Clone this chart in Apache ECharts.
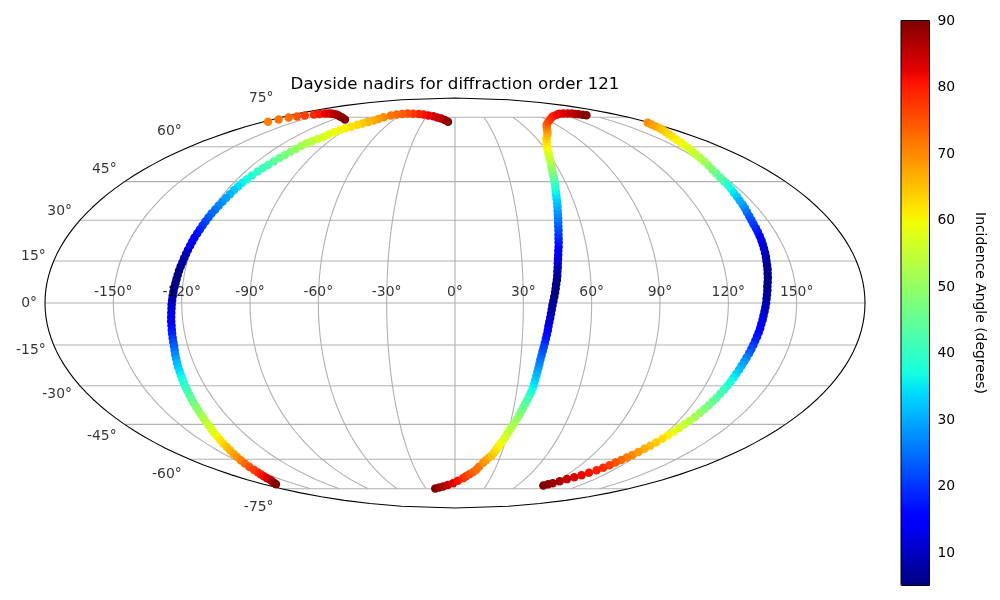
<!DOCTYPE html>
<html>
<head>
<meta charset="utf-8">
<title>Dayside nadirs</title>
<style>
    html, body { margin: 0; padding: 0; background: #fff; }
    #chart { width: 1000px; height: 600px; }
</style>
<script src="https://cdn.jsdelivr.net/npm/echarts@6/dist/echarts.min.js"></script>
</head>
<body>
<div id="chart"></div>
<script>
// [longitude, latitude, incidence angle] in degrees
var trackTopLeft = [
    [-176,72.5,71],[-173.6,73.7,72],[-171.1,74.8,73],[-166.8,75.4,75],[-162.8,76,77],[-157.3,76.6,79],
    [-154,77,80.5],[-150,77.3,82],[-146,77.3,83],[-142,77.2,84],[-138,77,85],[-133,76.7,86],
    [-128,76.2,87],[-122,75.5,88],[-116,74.8,89],[-108.3,73.7,90]
];
var trackWest = [
    [-6.6,72.5,90],[-10,73.4,88.5],[-14,74.3,87],[-18.3,74.9,85],[-23,75.6,84],[-29,76.1,82.5],
    [-35.2,76.6,81],[-41,76.9,79.5],[-48,77.1,78],[-54.4,77.2,76],[-60,77,74.5],[-65,76.6,73],
    [-69.6,76,72],[-74,75,70],[-76.3,74,68.5],[-78.2,73.1,67],[-81,72.3,66],[-84,71.5,64.5],
    [-86.7,70.8,63],[-89.5,69.8,62],[-92,69,61],[-94.2,68.2,60],[-96,67,59],[-97.5,65.8,58],
    [-98.7,64.6,57],[-100.5,63.6,55.7],[-102.3,62.6,54.4],[-104,61.6,53],[-105,60.3,51.7],[-106,59,50.4],
    [-107,57.7,49],[-108,56.3,47.5],[-109,54.9,46],[-110,53.4,44],[-111,52,42.7],[-112,50.6,41.4],
    [-113,49.2,40],[-113.9,47.5,38.5],[-114.6,46,37],[-115.2,44.5,36],[-115.7,43,34.3],[-116.2,41.5,32.7],
    [-116.6,40,31],[-117,38.5,29.5],[-117.4,37,28.2],[-117.9,35.5,26.9],[-118.3,34,25.6],[-118.8,32.5,24.2],
    [-119.1,31,23],[-119.4,29.5,21.6],[-119.7,28,20.2],[-120,26.5,18.8],[-120.3,25,17.3],[-120.7,23.5,15.8],
    [-120.9,22,14.3],[-121.1,20.5,12.9],[-121.4,19,11.5],[-121.6,17.5,10],[-121.9,16,8.6],[-122.1,14.5,7.6],
    [-122.4,13,6.8],[-122.7,11.5,6.1],[-122.9,10,5.6],[-123.1,8.5,5.4],[-123.3,7,5.5],[-123.6,5.5,6],
    [-123.8,4,7],[-124,2.5,8],[-124.2,1,9],[-124.4,-0.5,10],[-124.5,-2,11],[-124.7,-3.5,12.2],
    [-124.9,-5,13.3],[-125.1,-6.5,14.5],[-125.2,-8,15.8],[-125.4,-9.5,17],[-125.6,-11,18.4],[-125.8,-12.5,19.8],
    [-126,-14,21.5],[-126.2,-15.5,23.2],[-126.5,-17,25],[-126.9,-18.5,27],[-127.2,-20,29],[-127.6,-21.5,31],
    [-127.9,-23,32.4],[-128.2,-24.5,33.8],[-128.6,-26,35.3],[-128.9,-27.5,36.8],[-129.3,-29,38.3],[-129.7,-30.5,39.8],
    [-130.1,-32,41.4],[-130.5,-33.5,43],[-130.9,-35,44.6],[-131.3,-36.5,46.2],[-131.8,-38,47.8],[-132.3,-39.5,49.4],
    [-132.9,-41,51],[-133.4,-42.5,52.5],[-134.1,-44,54],[-134.9,-45.5,55.4],[-135.7,-47,56.8],[-136.6,-48.5,58.2],
    [-137.6,-50,59.8],[-138.6,-51.5,61.4],[-139.7,-53,63],[-140.7,-54.5,64.8],[-142,-56,66.2],[-143.5,-57.5,67.6],
    [-145.1,-59,69.2],[-146.7,-60.5,71],[-148.4,-62,73],[-150.2,-63.5,75],[-152,-65,76.8],[-153.6,-66.2,78],
    [-155.2,-67.2,79.8],[-157,-68.2,81.5],[-158.9,-69.2,83.3],[-160.8,-70.2,85],[-163.3,-71,86.7],[-165.9,-71.8,88.3],
    [-168.5,-72.5,90]
];
var trackCentre = [
    [-20.4,-74.9,90],[-16,-74.3,88.5],[-11.7,-73.7,87],[-7,-72.9,85.5],[-1.8,-71.9,83],[2.5,-70.6,81],
    [6.8,-69.2,79],[9,-68.2,77.5],[11.5,-67.2,76],[14,-66.2,74],[16,-64.9,73],[17.5,-63.5,72],
    [19.7,-61.6,70],[21.2,-60.4,68.5],[22.7,-59.2,66.8],[24.2,-58.1,65],[25.2,-56.8,63.8],[26,-55.5,62.5],
    [26.8,-54.2,61.2],[27.5,-53,60],[28.3,-51.8,58.8],[29.1,-50.3,57.4],[29.8,-48.8,55.8],[30.6,-47.3,54.5],
    [31.4,-45.8,53],[32.2,-44.3,51.8],[32.9,-42.8,50.4],[33.6,-41.3,49],[34.2,-39.8,47.5],[34.8,-38.3,46],
    [35.4,-36.8,44.5],[36,-35.3,42.8],[36.6,-33.8,41],[37.1,-32.3,39],[37.5,-30.8,37],[37.8,-29.3,35],
    [38,-27.8,33.5],[38.2,-26.3,32],[38.4,-24.8,30.5],[38.6,-23.3,29],[38.8,-21.8,27.3],[39,-20.3,25.8],
    [39.3,-18.8,24.4],[39.6,-17.3,23],[39.9,-15.8,21.5],[40.2,-14.3,20],[40.5,-12.8,18.3],[40.8,-11.3,16.8],
    [41.1,-9.8,15],[41.3,-8.3,13.4],[41.6,-6.8,11.9],[41.9,-5.3,10.5],[42.2,-3.8,9.3],[42.5,-2.3,8.2],
    [42.8,-0.8,7.2],[43.2,0.7,6.4],[43.6,2.2,5.8],[44,3.7,5.4],[44.3,5.2,5.3],[44.6,6.7,5.5],
    [45,8.2,5.9],[45.3,9.7,6.6],[45.5,11.2,7.5],[45.8,12.7,8.6],[46,14.2,9.9],[46.3,15.7,11.2],
    [46.6,17.2,12.6],[46.9,18.7,14],[47.3,20.2,15.4],[47.6,21.7,16.8],[47.9,23.2,18.2],[48.2,24.7,19.7],
    [48.6,26.2,21.2],[48.9,27.7,22.6],[49.3,29.2,24.1],[49.7,30.7,25.7],[50.1,32.2,27.2],[50.5,33.7,28.7],
    [51,35.2,30.2],[51.4,36.7,31.7],[51.8,38.2,33.1],[52.3,39.7,34.6],[52.8,41.2,36.3],[53.3,42.7,38],
    [53.9,44.2,40],[54.5,45.7,42],[55,47.2,44.5],[55.5,48.7,47],[56.2,50.2,49],[57,51.7,50.7],
    [57.8,53.2,52.3],[58.6,54.7,54],[59.5,56.2,55.7],[60.5,57.7,57.2],[61.7,59.2,59],[63,60.7,60.8],
    [65,62.2,62],[67,63.7,63.5],[70,65.2,65.2],[73,66.7,67],[75.5,68.2,69],[78.7,69.7,71],
    [82,71,73],[87,72.3,75],[93,73.6,77],[99.8,74.9,78],[106,75.8,79.5],[113,76.5,81],
    [119,77.1,82],[125,77.3,83],[130,77.3,84],[134,77.2,85],[137,77,86],[139,76.8,87],
    [141.5,76.5,88.5],[143.8,76.2,90]
];
var trackEast = [
    [177.6,71.9,70],[175.5,71,68.7],[173.5,70,67.5],[172,69,66],[170.4,68.2,65],[168,67.2,64],
    [165.5,66,63],[163,64.7,62],[161,63.3,61],[159.6,62.1,60],[158,60.8,59],[156.5,59.4,58],
    [155,58,56.7],[153.5,56.5,55],[152.3,55,53.5],[151.2,53.4,51.8],[150,51.7,50],[148.8,50,48],
    [148,48.4,46],[147.3,46.8,44],[146.7,45,41.5],[146.3,43.4,39],[145.8,42,37],[145.2,40.5,35],
    [144.8,39,33],[144.3,37.5,31],[144,36,29.6],[143.5,34.5,27.8],[143,33,25.5],[142.6,31.5,23.5],
    [142.3,30,22],[142,28.5,20.7],[141.9,27,19.3],[141.7,25.5,17.8],[141.5,24,15],[141.3,22.5,13.2],
    [141,21,12],[140.7,19.5,11],[140.4,18,10],[140.1,16.5,8.8],[139.7,15,7.7],[139.4,13.5,6.9],
    [139.1,12,6.3],[138.7,10.5,5.8],[138.4,9,5.5],[138,7.5,5.3],[137.6,6,5.3],[137.4,4.5,5.8],
    [137.1,3,6.4],[136.8,1.5,7.3],[136.6,0,8.2],[136.3,-1.5,9.2],[136,-3,10.2],[135.7,-4.5,11.2],
    [135.5,-6,12.3],[135.2,-7.5,13.3],[135,-9,14.3],[134.7,-10.5,15.6],[134.4,-12,16.9],[134.1,-13.5,18.3],
    [133.8,-15,20],[133.5,-16.5,21.8],[133.2,-18,23.8],[132.8,-19.5,26],[132.5,-21,28.2],[132.2,-22.5,30],
    [131.9,-24,31.7],[131.6,-25.5,33.4],[131.3,-27,35.2],[131,-28.5,37],[130.7,-30,38.8],[130.3,-31.5,40.2],
    [129.9,-33,41.8],[129.4,-34.5,43.3],[129,-36,45],[128.5,-37.5,46.5],[128,-39,48.2],[127.4,-40.5,50],
    [126.7,-42,51.7],[125.9,-43.5,53.3],[125,-45,55],[124.1,-46.5,56.7],[123.3,-48,58.7],[122.5,-49.5,60.8],
    [121.6,-51,62.4],[120.6,-52.6,64],[119.5,-54,65.5],[118.3,-55.3,67],[117.2,-56.7,68.5],[116,-58.1,70],
    [114.8,-59.2,71.5],[113.5,-60.3,73],[112.2,-61.5,75],[111,-62.8,77],[109.3,-64,78.5],[107.5,-65.2,80],
    [105,-66.5,81],[102.5,-67.7,82],[99.3,-68.7,83.5],[96,-69.7,85],[93,-70.8,86.5],[90,-71.9,88],
    [87.5,-72.5,89],[85,-73.1,90]
];
var lonTicks = [-150, -120, -90, -60, -30, 0, 30, 60, 90, 120, 150];
var latTicks = [75, 60, 45, 30, 15, 0, -15, -30, -45, -60, -75];
var colorbarTicks = [10, 20, 30, 40, 50, 60, 70, 80, 90];
var colorMin = 5.1;
var colorMax = 90.1;
var latCap = 75;

// Mollweide, same scaling as matplotlib
function project(lon, lat) {
    var phi = lat * Math.PI / 180;
    var theta = phi;
    if (Math.abs(lat) < 90) {
        for (var i = 0; i < 60; i++) {
            var d = (2 * theta + Math.sin(2 * theta) - Math.PI * Math.sin(phi)) / (2 + 2 * Math.cos(2 * theta));
            theta -= d;
        }
    }
    return [2 * Math.SQRT2 / Math.PI * (lon * Math.PI / 180) * Math.cos(theta), Math.SQRT2 * Math.sin(theta)];
}

// jet colormap
function jet(t) {
    function ramp(pts) {
        for (var i = 1; i < pts.length; i++) {
            if (t <= pts[i][0]) {
                var a = pts[i - 1], b = pts[i];
                return a[1] + (b[1] - a[1]) * (t - a[0]) / (b[0] - a[0]);
            }
        }
        return pts[pts.length - 1][1];
    }
    var r = ramp([[0, 0], [0.35, 0], [0.66, 1], [0.89, 1], [1, 0.5]]);
    var g = ramp([[0, 0], [0.125, 0], [0.375, 1], [0.64, 1], [0.91, 0], [1, 0]]);
    var b = ramp([[0, 0.5], [0.11, 1], [0.34, 1], [0.65, 0], [1, 0]]);
    return 'rgb(' + Math.round(r * 255) + ',' + Math.round(g * 255) + ',' + Math.round(b * 255) + ')';
}
var jetColors = [];
for (var c = 0; c <= 64; c++) {
    jetColors.push(jet(c / 64));
}

function gridLine(points, color) {
    return {
        type: 'line', data: points, showSymbol: false, symbol: 'none', silent: true, clip: false, z: 1,
        lineStyle: { color: color, width: 1.1 }, animation: false
    };
}

var fontName = '"DejaVu Sans"';
var series = [];

// graticule
latTicks.forEach(function (lat) {
    series.push(gridLine([project(-180, lat), project(180, lat)], '#b0b0b0'));
});
lonTicks.forEach(function (lon) {
    var pts = [];
    for (var lat = -latCap; lat <= latCap; lat += 2.5) {
        pts.push(project(lon, lat));
    }
    series.push(gridLine(pts, '#b0b0b0'));
});

// outline of the globe
var outline = [];
for (var la = -90; la <= 90; la += 2.5) {
    outline.push(project(180, la));
}
for (var lb = 90; lb >= -90; lb -= 2.5) {
    outline.push(project(-180, lb));
}
series.push(gridLine(outline, '#000'));

// nadir points
var nadirs = [];
[trackTopLeft, trackWest, trackCentre, trackEast].forEach(function (track) {
    track.forEach(function (p) {
        var xy = project(p[0], p[1]);
        nadirs.push([xy[0], xy[1], p[2]]);
    });
});
var nadirIndex = series.length;
series.push({
    type: 'scatter', data: nadirs, symbol: 'circle', symbolSize: 8.5, clip: false, z: 3, silent: true,
    animation: false, itemStyle: { opacity: 1 }
});

// tick labels
var latLabelDy = [-19, -15, -12, -9, -5, 0, 5, 9, 12, 15, 19];
series.push({
    type: 'scatter', symbolSize: 0, silent: true, clip: false, z: 4, animation: false,
    data: lonTicks.map(function (lon) {
        return {
            value: project(lon, 0),
            label: {
                show: true, position: 'top', distance: 4, formatter: lon + '°',
                color: '#000', fontSize: 13.9, fontFamily: fontName
            }
        };
    })
});
series.push({
    type: 'scatter', symbolSize: 0, silent: true, clip: false, z: 4, animation: false,
    data: latTicks.map(function (lat, i) {
        return {
            value: project(-180, lat),
            label: {
                show: true, position: 'left', distance: 8, offset: [0, latLabelDy[i]], formatter: lat + '°',
                color: '#000', fontSize: 13.9, fontFamily: fontName
            }
        };
    })
});

var myChart = echarts.init(document.getElementById('chart'), null, { renderer: 'canvas' });
var xLimit = 2 * Math.SQRT2;
var yLimit = Math.SQRT2;
var option = {
    backgroundColor: '#fff',
    animation: false,
    title: {
        text: 'Dayside nadirs for diffraction order 121',
        left: 455, top: 76, padding: 0, textAlign: 'center',
        textStyle: { color: '#000', fontWeight: 'normal', fontSize: 16.67, fontFamily: fontName }
    },
    grid: [
        { left: 45, top: 98, width: 820, height: 410 },
        { left: 901, top: 20.5, width: 28.5, height: 565, show: true, borderColor: '#000', borderWidth: 1, z: 6 }
    ],
    xAxis: [
        { type: 'value', gridIndex: 0, min: -xLimit, max: xLimit, show: false },
        { type: 'value', gridIndex: 1, min: 0, max: 1, show: false }
    ],
    yAxis: [
        { type: 'value', gridIndex: 0, min: -yLimit, max: yLimit, show: false },
        {
            type: 'value', gridIndex: 1, position: 'right', min: colorMin, max: colorMax,
            splitLine: { show: false },
            axisLine: { show: false },
            axisTick: { show: true, length: 5, lineStyle: { color: '#000', width: 1 }, customValues: colorbarTicks },
            axisLabel: {
                show: true, margin: 8, color: '#000', fontSize: 13.9, fontFamily: fontName,
                padding: [4, 0, 0, 0], customValues: colorbarTicks
            },
            name: 'Incidence Angle (degrees)',
            nameLocation: 'middle', nameRotate: -90, nameGap: 43,
            nameTextStyle: { color: '#000', fontSize: 13.9, fontFamily: fontName }
        }
    ],
    visualMap: {
        type: 'continuous', show: true, seriesIndex: nadirIndex, dimension: 2,
        min: colorMin, max: colorMax, calculable: false, hoverLink: false,
        left: 901, top: 20.5, padding: 0, itemWidth: 28.5, itemHeight: 565, text: null, showLabel: false,
        inRange: { color: jetColors }
    },
    series: series
};
myChart.setOption(option);
</script>
</body>
</html>
